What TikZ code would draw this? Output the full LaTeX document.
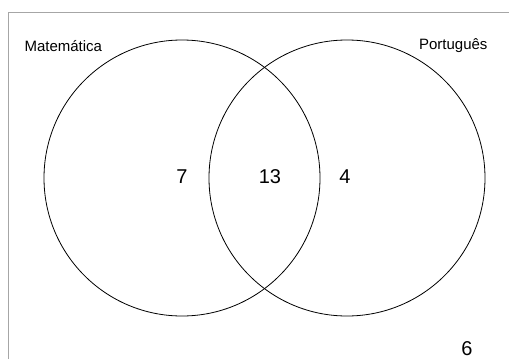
\documentclass[tikz,border=0pt]{standalone}
\usepackage{fontspec}
\setmainfont{Liberation Sans}
\begin{document}
\begin{tikzpicture}[x=1pt,y=-1pt]
\tikzset{conj/.style={draw, circle, line width=0.8pt, minimum size=276pt, inner sep=0pt},
  rotulo/.style={font=\fontsize{15}{18}\selectfont},
  numero/.style={font=\fontsize{20}{24}\selectfont}}
\useasboundingbox (0,0) rectangle (509,359);
\draw[gray!70, line width=0.8pt] (8,359) -- (8,12.5) -- (509,12.5);
\node[conj] (mat) at (182,178) {};
\node[conj] (port) at (347,178) {};
\node[rotulo, anchor=west] (lmat) at (21,46) {Matemática};
\node[rotulo, anchor=east] (lport) at (491,46) {Português};
\node[numero] (n7) at (182,177) {7};
\node[numero] (n13) at (270,177) {13};
\node[numero] (n4) at (345,177) {4};
\node[numero] (n6) at (467,349) {6};
\end{tikzpicture}
\end{document}
